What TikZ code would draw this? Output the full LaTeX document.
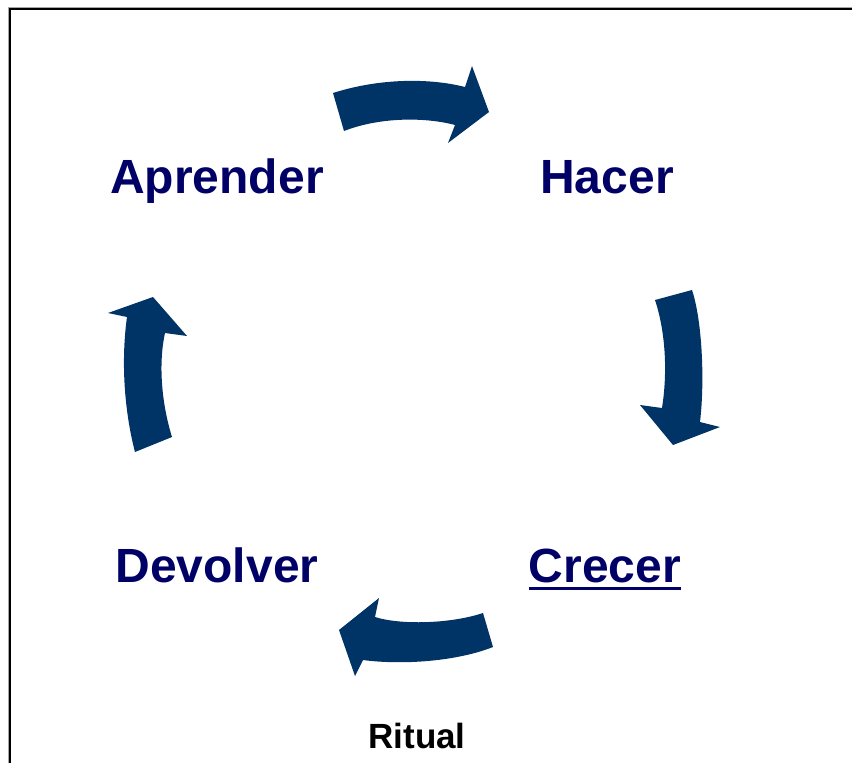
\documentclass[tikz,border=0pt]{standalone}
\usepackage{fontspec}
\setmainfont{Liberation Sans}
\definecolor{arrowblue}{RGB}{0,51,102}
\definecolor{textnavy}{RGB}{0,0,102}
\tikzset{
  word/.style={inner sep=0pt, anchor=base, text=textnavy, font=\fontsize{48}{57}\selectfont\bfseries},
  small/.style={inner sep=0pt, anchor=base, text=black, font=\fontsize{35}{42}\selectfont\bfseries},
  blockarrow/.style={fill=arrowblue, draw=none},
  frameouter/.style={draw=gray!70, line width=3.5pt},
  frameinner/.style={draw=black, line width=2pt}
}
\begin{document}
\begin{tikzpicture}[x=1pt, y=-1pt]
\useasboundingbox (0,0) rectangle (852,763);
\fill[white] (0,0) rectangle (852,763);
% frame (only top and left edges visible)
\draw[frameouter] (9.5,763) -- (9.5,8.5) -- (852,8.5);
\draw[frameinner] (10.2,763) -- (10.2,9.2) -- (852,9.2);
% words
\node[word] (apr) at (217,193) {Aprender};
\node[word] (hac) at (607,193) {Hacer};
\node[word] (cre) at (605,582) {Crecer};
\node[word] (dev) at (217,582) {Devolver};
\node[small] (rit) at (417,748) {Ritual};
\draw[draw=textnavy, line width=3pt] ([yshift=-6.5pt]cre.base west) -- ([yshift=-6.5pt]cre.base east);
% top arrow (Aprender -> Hacer)
\fill[blockarrow] (333,93) .. controls (380,78) and (430,78) .. (465,87)
  -- (472,66) -- (489,112) -- (448,143) -- (455,125)
  .. controls (425,117) and (380,117) .. (344,131) -- cycle;
% right arrow (Hacer -> Crecer)
\fill[blockarrow] (655,300) -- (692,290) .. controls (702,320) and (705,380) .. (700,422)
  -- (720,427) -- (673,445) -- (640,405) -- (662,408)
  .. controls (668,370) and (665,330) .. (655,300) -- cycle;
% bottom arrow (Crecer -> Devolver)
\fill[blockarrow] (483,613) -- (493,647) .. controls (455,662) and (400,665) .. (363,660)
  -- (355,676) -- (339,630) -- (379,598) -- (375,617)
  .. controls (400,625) and (450,624) .. (483,613) -- cycle;
% left arrow (Devolver -> Aprender)
\fill[blockarrow] (135,452) -- (172,437) .. controls (162,405) and (158,365) .. (165,333)
  -- (187,336) -- (153,297) -- (108,313) -- (127,317)
  .. controls (121,360) and (124,410) .. (135,452) -- cycle;
\end{tikzpicture}
\end{document}
